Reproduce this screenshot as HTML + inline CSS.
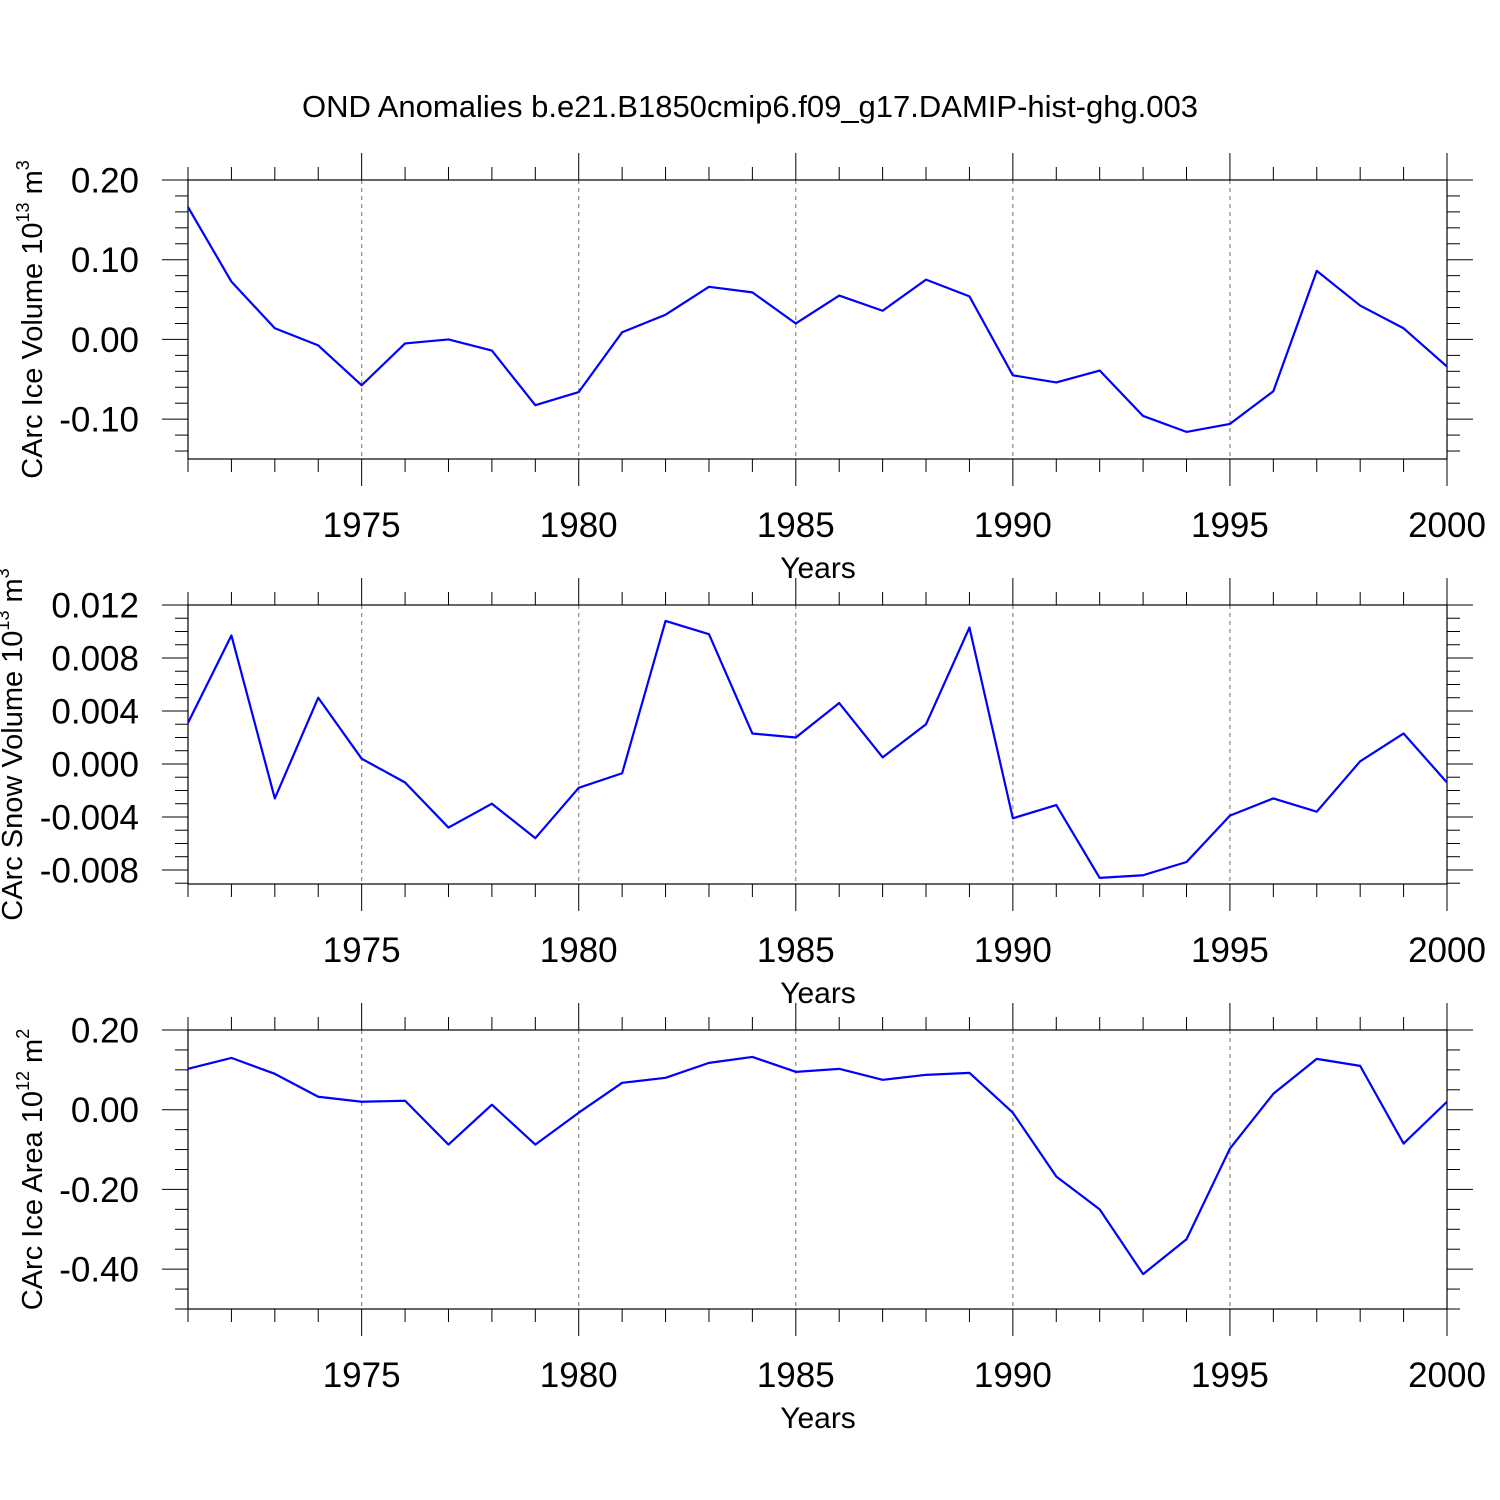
<!DOCTYPE html>
<html><head><meta charset="utf-8"><style>
html,body{margin:0;padding:0;background:#fff;}
svg{display:block;font-family:"Liberation Sans",Arial,sans-serif;}
</style></head><body>
<svg id="chart" width="1500" height="1500" viewBox="0 0 1500 1500" xmlns="http://www.w3.org/2000/svg">
<rect width="1500" height="1500" fill="#fff"/>
<text x="750" y="117" font-size="31" text-anchor="middle">OND Anomalies b.e21.B1850cmip6.f09_g17.DAMIP-hist-ghg.003</text>
</svg>
<script>
const years = [1971,1972,1973,1974,1975,1976,1977,1978,1979,1980,1981,1982,1983,1984,1985,1986,1987,1988,1989,1990,1991,1992,1993,1994,1995,1996,1997,1998,1999,2000];
const iceVolume = [0.166,0.0725,0.014,-0.0075,-0.0575,-0.005,0.0,-0.014,-0.0825,-0.066,0.009,0.031,0.066,0.059,0.020,0.055,0.036,0.075,0.054,-0.045,-0.054,-0.039,-0.096,-0.116,-0.106,-0.065,0.086,0.0425,0.014,-0.034];
const snowVolume = [0.0031,0.0097,-0.0026,0.0050,0.0004,-0.0014,-0.0048,-0.0030,-0.0056,-0.0018,-0.0007,0.0108,0.0098,0.0023,0.0020,0.0046,0.0005,0.0030,0.0103,-0.0041,-0.0031,-0.0086,-0.0084,-0.0074,-0.0039,-0.0026,-0.0036,0.0002,0.0023,-0.0014];
const iceArea = [0.1025,0.13,0.09,0.0325,0.02,0.0225,-0.0875,0.0125,-0.0875,-0.0075,0.0675,0.08,0.1175,0.1325,0.095,0.1025,0.075,0.0875,0.0925,-0.0075,-0.1675,-0.25,-0.4125,-0.325,-0.0975,0.04,0.1275,0.11,-0.085,0.02];
const xTickLabels = ["1975","1980","1985","1990","1995","2000"];
const iceVolTicks = ["0.20","0.10","0.00","-0.10"];
const snowTicks = ["0.012","0.008","0.004","0.000","-0.004","-0.008"];
const areaTicks = ["0.20","0.00","-0.20","-0.40"];

const NS="http://www.w3.org/2000/svg";
const svg=document.getElementById('chart');
function mk(tag,attrs,parent){const e=document.createElementNS(NS,tag);for(const k in attrs)e.setAttribute(k,attrs[k]);(parent||svg).appendChild(e);return e;}
const X0=188,X1=1447;
function xs(yr){return X0+(yr-1971)*(X1-X0)/29;}

const panels=[
 {name:'ice-volume',top:180,bot:459,ymax:0.20,ymin:-0.15,data:iceVolume,ticks:iceVolTicks,major:0.1,minor:0.02,title:['CArc Ice Volume 10','13',' m','3'],tx:32},
 {name:'snow-volume',top:605,bot:884,ymax:0.012,ymin:-0.00906,data:snowVolume,ticks:snowTicks,major:0.004,minor:0.001,title:['CArc Snow Volume 10','13',' m','3'],tx:12},
 {name:'ice-area',top:1030,bot:1309,ymax:0.20,ymin:-0.50,data:iceArea,ticks:areaTicks,major:0.2,minor:0.05,title:['CArc Ice Area 10','12',' m','2'],tx:32}
];
panels.forEach(p=>{
 const g=mk('g',{});
 
 
 const ys=v=>p.top+(p.ymax-v)*(p.bot-p.top)/(p.ymax-p.ymin);
 for(let yr=1975;yr<2000;yr+=5){const l=mk('line',{x1:xs(yr),x2:xs(yr),y1:p.top,y2:p.bot,stroke:'#888','stroke-width':1.2,'stroke-dasharray':'4,4'},g);
  }
 for(const yr of years){const maj=(yr%5===0);const len=maj?27:13;
  mk('line',{x1:xs(yr),x2:xs(yr),y1:p.top-len,y2:p.top,stroke:'#000','stroke-width':1},g);
  mk('line',{x1:xs(yr),x2:xs(yr),y1:p.bot,y2:p.bot+len,stroke:'#000','stroke-width':1},g);}
 const n=Math.round((p.ymax-p.ymin)/p.minor)+1;
 for(let i=0;i<n;i++){const v=p.ymax-i*p.minor;if(v<p.ymin-1e-9)break;const y=ys(v);
  const maj=Math.abs(v/p.major-Math.round(v/p.major))<1e-6;const len=maj?26:13;
  mk('line',{x1:X0-len,x2:X0,y1:y,y2:y,stroke:'#000','stroke-width':1},g);
  mk('line',{x1:X1,x2:X1+len,y1:y,y2:y,stroke:'#000','stroke-width':1},g);}
 p.ticks.forEach(t=>{const tt=mk('text',{x:139,y:ys(parseFloat(t))+12.5,'font-size':35,'text-anchor':'end'},g);tt.textContent=t;
  });
 xTickLabels.forEach(t=>{const tt=mk('text',{x:xs(+t),y:p.bot+78,'font-size':35,'text-anchor':'middle'},g);tt.textContent=t;
  });
 const xt=mk('text',{x:818,y:p.bot+119,'font-size':30,'text-anchor':'middle'},g);xt.textContent='Years';
 
 const fr=mk('rect',{x:X0,y:p.top,width:X1-X0,height:p.bot-p.top,fill:'none',stroke:'#000','stroke-width':1.2},g);
 
 const pts=p.data.map((v,i)=>xs(years[i])+','+ys(v)).join(' ');
 const pl=mk('polyline',{points:pts,fill:'none',stroke:'#0000ff','stroke-width':2.2,'stroke-linejoin':'round'},g);
 
 const cy=(p.top+p.bot)/2;
 const yt=mk('text',{transform:`translate(${p.tx+10},${cy}) rotate(-90)`,'font-size':29,'text-anchor':'middle'},g);
 
 const s1=mk('tspan',{},yt);s1.textContent=p.title[0];
 const s2=mk('tspan',{dy:-13,'font-size':18},yt);s2.textContent=p.title[1];
 const s3=mk('tspan',{dy:13},yt);s3.textContent=p.title[2];
 const s4=mk('tspan',{dy:-13,'font-size':18},yt);s4.textContent=p.title[3];
});
</script>
</body></html>
